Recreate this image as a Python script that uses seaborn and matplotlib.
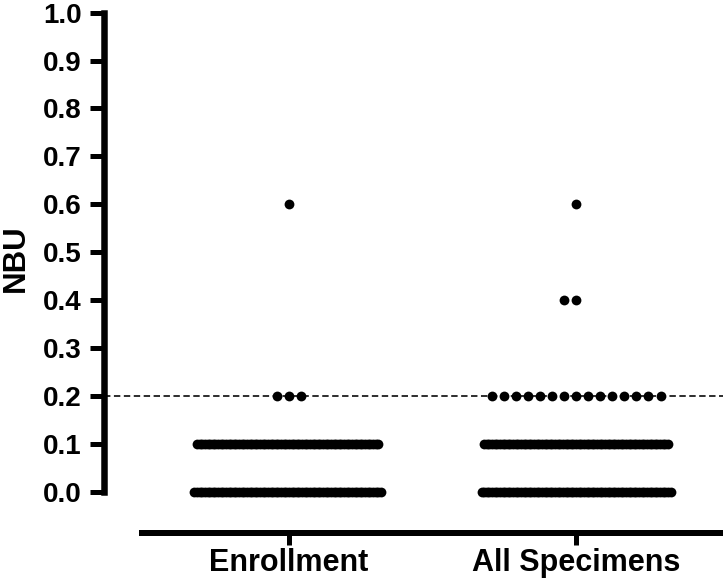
import numpy as np
import pandas as pd
import matplotlib
matplotlib.use("Agg")
import matplotlib.pyplot as plt
import seaborn as sns

# ---------------- data ----------------
categories = ["Enrollment", "All Specimens"]
nbu_levels = [0.0, 0.1, 0.2, 0.4, 0.6]
enrollment_counts = [72, 70, 3, 0, 1]
all_specimens_counts = [73, 71, 15, 2, 1]
y_ticks = [0.0, 0.1, 0.2, 0.3, 0.4, 0.5, 0.6, 0.7, 0.8, 0.9, 1.0]
y_tick_labels = [f"{v:.1f}" for v in y_ticks]
threshold = 0.2

# ---------------- style ----------------
sns.set_theme(style="ticks", rc={
    "axes.edgecolor": "black", "xtick.color": "black", "ytick.color": "black",
    "text.color": "black", "axes.labelcolor": "black",
})
plt.rcParams["font.family"] = ["Liberation Sans", "DejaVu Sans"]
plt.rcParams["font.weight"] = "bold"

DPI = 100
def px2pt(p):
    return p * 72.0 / DPI

rows = []
for cat, counts in zip(categories, [enrollment_counts, all_specimens_counts]):
    for lvl, c in zip(nbu_levels, counts):
        rows += [(cat, lvl)] * c
df = pd.DataFrame(rows, columns=["Group", "NBU"])

W, H = 723, 581
fig = plt.figure(figsize=(W / DPI, H / DPI), dpi=DPI)
ax_left, ax_top, ax_bottom = 142, 12.7, 491.7
ax = fig.add_axes([ax_left / W, 1 - ax_bottom / H, 1 - ax_left / W, (ax_bottom - ax_top) / H])

dense = df[df["NBU"] <= 0.1]
sparse = df[df["NBU"] > 0.1]

n0 = len(ax.collections)
sns.swarmplot(data=dense, x="Group", y="NBU", order=categories, color="black",
              size=px2pt(2.5), linewidth=0, ax=ax)
dense_colls = ax.collections[n0:]
n1 = len(ax.collections)
sns.swarmplot(data=sparse, x="Group", y="NBU", order=categories, color="black",
              size=px2pt(11.5), linewidth=0, ax=ax)
sparse_colls = ax.collections[n1:]

ax.set_xlim(-0.512, 1.512)
ax.set_ylim(0, 1)

# dashed threshold line reaching back to the offset y spine
axes_w = W - ax_left
ax.axhline(threshold, xmin=-38.5 / axes_w, xmax=1, color="black", lw=px2pt(1.6),
           linestyle=(0, (4, 2.2)), clip_on=False, zorder=0.5)

# spines
ax.spines["top"].set_visible(False)
ax.spines["right"].set_visible(False)
ax.spines["left"].set_position(("outward", px2pt(38.5)))
ax.spines["left"].set_bounds(0, 1)
ax.spines["left"].set_linewidth(px2pt(6.5))
ax.spines["left"].set_capstyle("projecting")
ax.spines["bottom"].set_position(("outward", px2pt(41)))
ax.spines["bottom"].set_linewidth(px2pt(6.0))

ax.set_yticks(y_ticks)
ax.set_yticklabels(y_tick_labels)
ax.tick_params(axis="y", length=px2pt(14.5), width=px2pt(5), pad=px2pt(7),
               labelsize=20, direction="out")
ax.tick_params(axis="x", length=px2pt(12.3), width=px2pt(5), pad=px2pt(3),
               labelsize=22, direction="out")
for lab in ax.get_xticklabels() + ax.get_yticklabels():
    lab.set_fontweight("bold")

ax.set_xlabel("")
ax.set_ylabel("NBU", fontsize=22.5, fontweight="bold")
ax.yaxis.set_label_coords(-0.192, 0.487)

# compute swarm positions with spacing sizes, then show dots at their real size
fig.canvas.draw()
for coll in list(dense_colls) + list(sparse_colls):
    if "draw" in coll.__dict__:
        del coll.draw
    coll.set_sizes([px2pt(9.8) ** 2])
    coll.set_clip_on(False)
    coll.set_zorder(2)

fig.savefig("out.png", dpi=DPI)
